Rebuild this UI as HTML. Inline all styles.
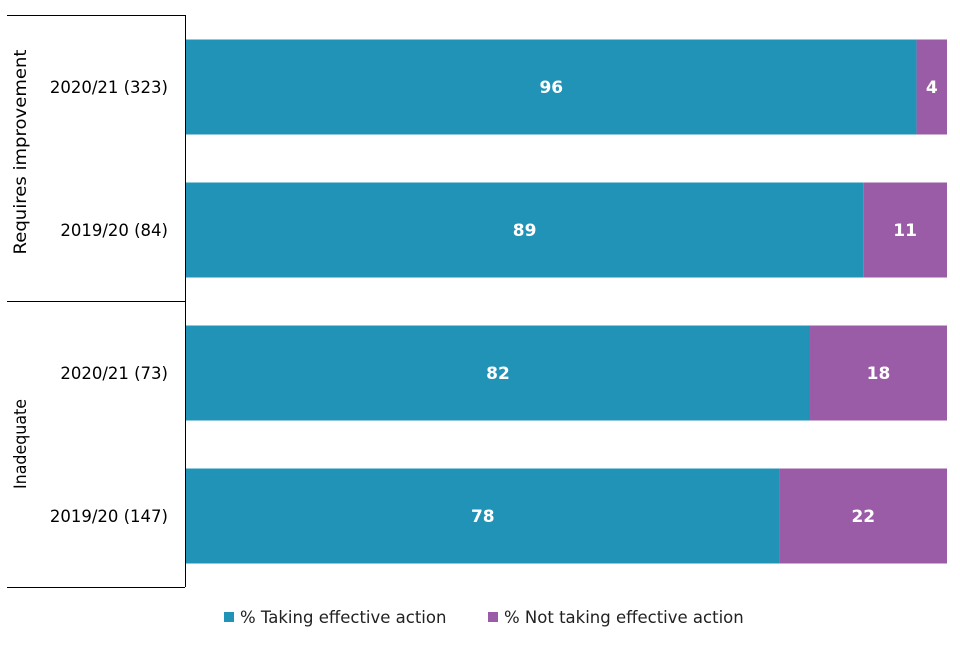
<!DOCTYPE html>
<html><head><meta charset="utf-8"><style>
body{margin:0;background:#fff;}
svg text{font-family:"DejaVu Sans","Liberation Sans",sans-serif;}
</style></head><body>
<svg id="chart" width="960" height="640">
<g id="axes"></g><g id="bars"></g><g id="legend"></g>
</svg>
<script>
const categories = ["2020/21 (323)", "2019/20 (84)", "2020/21 (73)", "2019/20 (147)"];
const groups = ["Requires improvement", "Inadequate"];
const taking = [96, 89, 82, 78];
const notTaking = [4, 11, 18, 22];
const seriesNames = ["% Taking effective action", "% Not taking effective action"];
const colors = ["#2193b7", "#9b5ca7"];

const ns = "http://www.w3.org/2000/svg";
const plotLeft = 186, plotWidth = 761, plotTop = 15, bandH = 143, barH = 95;
const groupLen = [205, 90];
const groupShift = [-6, 0];
function xs(v){ return plotLeft + v / 100 * plotWidth; }
function ys(i){ return plotTop + i * bandH + (bandH - barH) / 2 + 0.5; }
function mk(tag, attrs, parent){ const e = document.createElementNS(ns, tag); for (const k in attrs) e.setAttribute(k, attrs[k]); parent.appendChild(e); return e; }

const axesG = document.getElementById('axes');
const axisLine = mk('line', {x1:185.5, y1:plotTop, x2:185.5, y2:plotTop + bandH * 4, stroke:'#000', 'stroke-width':1}, axesG);


[0, 2, 4].forEach(k => {
  const l = mk('line', {x1:7, y1:plotTop + k * bandH + 0.5, x2:185, y2:plotTop + k * bandH + 0.5, stroke:'#000', 'stroke-width':1}, axesG);
  
  
});
groups.forEach((g, gi) => {
  const cy = plotTop + (gi * 2 + 1) * bandH + groupShift[gi];
  const t = mk('text', {x:0, y:0, transform:`translate(26,${cy}) rotate(-90)`, 'text-anchor':'middle', 'font-size':16.5, fill:'#000', textLength:groupLen[gi], lengthAdjust:'spacingAndGlyphs'}, axesG);
  t.textContent = g;
  
  
});
categories.forEach((c, i) => {
  const t = mk('text', {x:168, y:ys(i) + barH / 2 + 6, 'text-anchor':'end', 'font-size':16.5, fill:'#000'}, axesG);
  t.textContent = c;
  
  
});

const barsG = document.getElementById('bars');
categories.forEach((c, i) => {
  const vals = [taking[i], notTaking[i]];
  let acc = 0;
  vals.forEach((v, s) => {
    const r = mk('rect', {x:xs(acc), y:ys(i), width:xs(acc + v) - xs(acc), height:barH, fill:colors[s]}, barsG);
    
    
    const t = mk('text', {x:(xs(acc) + xs(acc + v)) / 2, y:ys(i) + barH / 2 + 6, 'text-anchor':'middle', 'font-size':17, 'font-weight':'bold', fill:'#fff'}, barsG);
    t.textContent = v;
    
    
    acc += v;
  });
});

const legendG = document.getElementById('legend');
const lx = [224, 488];
seriesNames.forEach((n, s) => {
  const r = mk('rect', {x:lx[s], y:612, width:10, height:10, fill:colors[s]}, legendG);
  
  
  const t = mk('text', {x:lx[s] + 16, y:623, 'font-size':16.5, fill:'#222'}, legendG);
  t.textContent = n;
  
  
});
</script>
</body></html>
